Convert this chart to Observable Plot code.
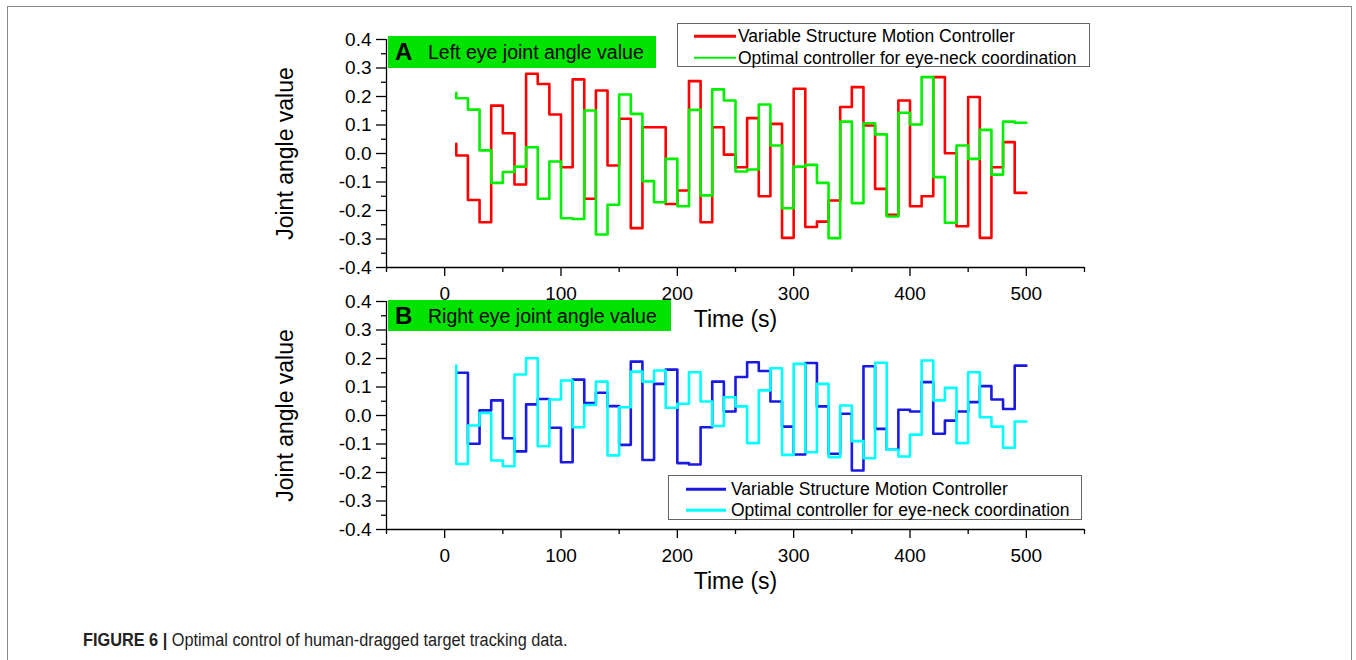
<!DOCTYPE html>
<html>
<head>
<meta charset="utf-8">
<script src="https://cdn.jsdelivr.net/npm/d3@7"></script>
<script src="https://cdn.jsdelivr.net/npm/@observablehq/plot@0.6"></script>
<style>
  body { margin: 0; background: #fff; font-family: "Liberation Sans", Arial, sans-serif; }
  #wrap { position: relative; width: 1356px; height: 660px; overflow: hidden; background: #fff; }
  #frame { position: absolute; left: 7px; top: 6px; width: 1345px; height: 700px; border: 1px solid #8a8a8a; box-sizing: border-box; }
  .panel { position: absolute; left: 0; }
  .tag { position: absolute; background: #00e300; color: #000; }
  .tag b { position: absolute; left: 7px; top: 50%; transform: translateY(-50%); font-size: 24px; font-weight: bold; }
  .tag span { position: absolute; left: 40px; top: 50%; transform: translateY(-50%); font-size: 19.5px; white-space: nowrap; }
  .legend { position: absolute; background: #fff; border: 1px solid #666; box-sizing: border-box; }
  .legend .row { position: absolute; left: 0; right: 0; height: 0; }
  .legend .sw { position: absolute; height: 2.5px; transform: translateY(-50%); }
  .legend .tx { position: absolute; transform: translateY(-50%); font-size: 17.5px; white-space: nowrap; color: #000; }
  #caption { position: absolute; left: 83px; top: 630px; font-family: "Liberation Sans", Arial, sans-serif; font-size: 18px; line-height: 20px; color: #222; white-space: nowrap; transform-origin: 0 0; transform: scaleX(0.905); }
  #caption b { font-weight: bold; }
</style>
</head>
<body>
<div id="wrap">
  <div id="frame"></div>
</div>
<script>
// ---- data ----
// time stamps (s); first value is the starting level at t = 10
const time = d3.range(10, 501, 10);

const seriesNamesTop = ["Variable Structure Motion Controller", "Optimal controller for eye-neck coordination"];
const seriesNamesBottom = ["Variable Structure Motion Controller", "Optimal controller for eye-neck coordination"];

const leftVSMC = [0.034, -0.007, -0.163, -0.241, 0.168, 0.071, -0.109, 0.280, 0.244, 0.137,
  -0.048, 0.260, -0.159, 0.221, -0.042, 0.122, -0.262, 0.092, 0.092, -0.177,
  -0.130, 0.254, -0.241, 0.092, -0.004, -0.048, 0.124, -0.150, 0.104, -0.296,
  0.227, -0.258, -0.239, -0.165, 0.163, 0.233, 0.098, -0.124, -0.215, 0.186,
  -0.185, -0.150, 0.268, 0.001, -0.255, 0.198, -0.296, -0.048, 0.040, -0.138];

const leftOptimal = [0.213, 0.194, 0.154, 0.011, -0.103, -0.065, -0.046, 0.022, -0.159, -0.028,
  -0.227, -0.230, 0.151, -0.284, -0.180, 0.207, 0.139, -0.097, -0.171, -0.019,
  -0.185, 0.153, -0.147, 0.225, 0.186, -0.063, -0.056, 0.172, 0.028, -0.192,
  -0.046, -0.040, -0.103, -0.297, 0.112, -0.174, 0.106, 0.067, -0.221, 0.143,
  0.102, 0.268, -0.083, -0.243, 0.028, -0.019, 0.083, -0.074, 0.112, 0.108];

const rightVSMC = [0.150, 0.150, -0.099, 0.018, 0.053, -0.080, -0.126, 0.039, 0.058, -0.043,
  -0.164, 0.126, 0.044, 0.080, 0.033, -0.103, 0.189, -0.156, 0.111, 0.161,
  -0.167, -0.172, -0.041, 0.119, 0.014, 0.135, 0.187, 0.156, 0.049, -0.039,
  -0.137, 0.184, 0.032, -0.134, 0.006, -0.193, 0.173, -0.047, -0.120, 0.020,
  0.014, 0.117, -0.064, -0.018, 0.014, 0.047, 0.103, 0.056, 0.023, 0.175];

const rightOptimal = [0.175, -0.170, -0.035, 0.009, -0.158, -0.178, 0.144, 0.201, -0.108, 0.056,
  0.123, -0.041, 0.037, 0.119, -0.140, 0.029, 0.154, 0.119, 0.158, 0.027,
  0.041, 0.152, 0.049, -0.037, 0.064, 0.032, -0.097, 0.088, 0.166, -0.138,
  0.181, -0.129, 0.111, -0.146, 0.035, -0.090, -0.150, 0.185, -0.120, -0.144,
  -0.067, 0.193, 0.053, 0.097, -0.097, 0.152, -0.006, -0.039, -0.113, -0.021];

const xTicks = [0, 100, 200, 300, 400, 500];
const xMinor = [-50, 50, 150, 250, 350, 450, 550];
const yTicks = [-0.4, -0.3, -0.2, -0.1, 0, 0.1, 0.2, 0.3, 0.4];
const yMinor = [-0.35, -0.25, -0.15, -0.05, 0.05, 0.15, 0.25, 0.35];

const xLabel = "Time (s)";
const yLabel = "Joint angle value";

// ---- drawing ----
function panel(valsA, valsB, colorA, colorB) {
  const dA = time.map((t, i) => ({t, v: valsA[i]}));
  const dB = time.map((t, i) => ({t, v: valsB[i]}));
  return Plot.plot({
    width: 1356,
    height: 340,
    marginLeft: 386,
    marginRight: 272,
    marginTop: 39,
    marginBottom: 73,
    x: {domain: [-50, 550]},
    y: {domain: [-0.4, 0.4]},
    style: {background: "transparent", fontFamily: "'Liberation Sans', Arial, sans-serif", fontSize: "19px", color: "#000", overflow: "visible"},
    marks: [
      Plot.line(dA, {x: "t", y: "v", curve: "step-before", stroke: colorA, strokeWidth: 2.6}),
      Plot.line(dB, {x: "t", y: "v", curve: "step-before", stroke: colorB, strokeWidth: 2.6}),
      Plot.axisX({ticks: xTicks, tickSize: 9, tickPadding: 10, tickFormat: d => String(d), label: null, strokeWidth: 1.3}),
      Plot.axisX({ticks: xMinor, tickSize: 5, tickFormat: () => "", label: null, strokeWidth: 1.3}),
      Plot.axisY({ticks: yTicks, tickSize: 10, tickPadding: 5, tickFormat: d => d.toFixed(1), label: null, strokeWidth: 1.3}),
      Plot.axisY({ticks: yMinor, tickSize: 5, tickFormat: () => "", label: null, strokeWidth: 1.3}),
      Plot.ruleY([-0.4], {x1: -50, x2: 550, stroke: "#000", strokeWidth: 1.3}),
      Plot.ruleX([-50], {y1: -0.4, y2: 0.4, stroke: "#000", strokeWidth: 1.3}),
      Plot.text([xLabel], {text: d => d, frameAnchor: "bottom", dy: 59, fontSize: 23, textAnchor: "middle"}),
      Plot.text([yLabel], {text: d => d, frameAnchor: "left", dx: -101, rotate: -90, fontSize: 23, textAnchor: "middle"})
    ]
  });
}

const wrapEl = document.getElementById("wrap");

const topPanel = panel(leftVSMC, leftOptimal, "#ff0000", "#00f000");
topPanel.classList.add("panel");
topPanel.style.top = "0px";
wrapEl.appendChild(topPanel);

const botPanel = panel(rightVSMC, rightOptimal, "#1a1ae0", "#00ffff");
botPanel.classList.add("panel");
botPanel.style.top = "262px";
wrapEl.appendChild(botPanel);

function tag(letter, text, left, topPx, w, h) {
  const d = document.createElement("div");
  d.className = "tag";
  Object.assign(d.style, {left: left + "px", top: topPx + "px", width: w + "px", height: h + "px"});
  d.innerHTML = `<b>${letter}</b><span>${text}</span>`;
  wrapEl.appendChild(d);
}
tag("A", "Left eye joint angle value", 388, 36, 268, 32);
tag("B", "Right eye joint angle value", 388, 300, 283, 31);

function legend(names, colors, left, topPx, w, h, rows, swX, swW, txX) {
  const d = document.createElement("div");
  d.className = "legend";
  Object.assign(d.style, {left: left + "px", top: topPx + "px", width: w + "px", height: h + "px"});
  names.forEach((n, i) => {
    const r = document.createElement("div");
    r.className = "row";
    r.style.top = rows[i] + "px";
    r.innerHTML = `<div class="sw" style="left:${swX}px;width:${swW}px;background:${colors[i]}"></div><div class="tx" style="left:${txX}px">${n}</div>`;
    d.appendChild(r);
  });
  wrapEl.appendChild(d);
}
legend(seriesNamesTop, ["#ff0000", "#00f000"], 677, 23, 413, 44, [12, 33.5], 16, 42, 60);
legend(seriesNamesBottom, ["#1a1ae0", "#00ffff"], 668, 475, 414, 45, [13, 34], 17, 40, 62);

const cap = document.createElement("div");
cap.id = "caption";
cap.innerHTML = "<b>FIGURE 6 |</b> Optimal control of human-dragged target tracking data.";
wrapEl.appendChild(cap);
</script>
</body>
</html>
